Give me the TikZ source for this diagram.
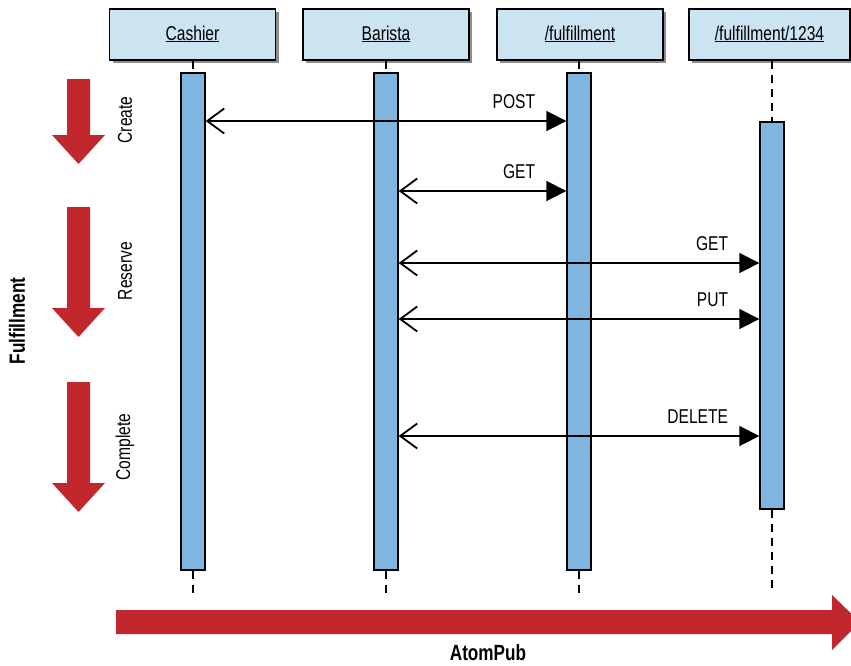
\documentclass[tikz,border=0pt]{standalone}
\usepackage{fontspec}
\setmainfont[FakeStretch=0.78]{Liberation Sans}
\usetikzlibrary{arrows.meta,shadows}

\begin{document}
\begin{tikzpicture}[x=1pt, y=-1pt,
    every node/.style={font=\fontsize{20}{23}\selectfont},
    head/.style={draw, line width=1.6pt, fill=headblue, minimum height=51pt,
      text height=15pt, text depth=4pt, inner sep=0pt,
      drop shadow={shadow xshift=3pt, shadow yshift=-3pt, opacity=0.6, fill=black!75}},
    bar/.style={draw, line width=1.4pt, fill=barblue, minimum width=24pt, inner sep=0pt},
    lifeline/.style={line width=1.6pt, dash pattern=on 8pt off 6pt},
    msg/.style={line width=1.8pt,
      {Straight Barb[length=17pt, width=25pt, line width=1.8pt]}-{Triangle[length=20pt, width=20pt]}},
    verb/.style={anchor=base east, xshift=-27pt, yshift=13pt},
    phase/.style={rotate=90},
    title/.style={font=\fontsize{22}{26}\selectfont\bfseries}]
  \definecolor{headblue}{RGB}{204,228,242}
  \definecolor{barblue}{RGB}{127,181,222}
  \definecolor{phasered}{RGB}{193,39,45}

  \useasboundingbox (0,0) rectangle (851,665);
  \clip (0,0) rectangle (851,665);

  % phases on the left
  \foreach \top/\neck/\tip in {79/135/164, 207/308/337, 382/483/512} {
    \fill[phasered] (67,\top) -- (90,\top) -- (90,\neck) -- (105,\neck)
      -- (78.5,\tip) -- (52,\neck) -- (67,\neck) -- cycle;
  }
  \node[phase] (create) at (125,120) {Create};
  \node[phase] (reserve) at (125,271) {Reserve};
  \node[phase] (complete) at (125,447) {Complete};
  \node[title, rotate=90] (fulfil) at (17,321) {Fulfillment};

  % time axis
  \fill[phasered] (116,610) -- (832,610) -- (832,595) -- (860,622)
    -- (832,650) -- (832,634) -- (116,634) -- cycle;
  \node[title, inner sep=1pt] (atompub) at (488,653) {AtomPub};

  % participants
  \node[head, minimum width=166pt] (cashhead) at (192.5,34.5) {\underline{Cashier}};
  \node[head, minimum width=166pt] (barihead) at (386,34.5) {\underline{Barista}};
  \node[head, minimum width=166pt] (fulhead) at (580,34.5) {\underline{/fulfillment}};
  \node[head, minimum width=161pt] (itemhead) at (769.5,34.5) {\underline{/fulfillment/1234}};

  \node[bar, minimum height=497pt] (cashbar) at (193,321.5) {};
  \node[bar, minimum height=497pt] (baribar) at (386,321.5) {};
  \node[bar, minimum height=497pt] (fulbar) at (579,321.5) {};
  \node[bar, minimum height=387pt] (itembar) at (772,315.5) {};

  \coordinate (floor) at (0,593);
  \foreach \n in {cash,bari,ful,item} {
    \draw[lifeline] (\n head.south -| \n bar) -- (\n bar.north);
    \draw[lifeline] (\n bar.south) -- (\n bar.south |- floor);
  }

  % messages
  \coordinate (ypost) at (0,121);
  \coordinate (yget) at (0,191);
  \coordinate (yread) at (0,263);
  \coordinate (yput) at (0,319);
  \coordinate (ydel) at (0,436);
  \draw[msg] (cashbar.east |- ypost) -- (fulbar.west |- ypost) node[verb] (lpost) {POST};
  \draw[msg] (baribar.east |- yget) -- (fulbar.west |- yget) node[verb] (lget) {GET};
  \draw[msg] (baribar.east |- yread) -- (itembar.west |- yread) node[verb] (lread) {GET};
  \draw[msg] (baribar.east |- yput) -- (itembar.west |- yput) node[verb] (lput) {PUT};
  \draw[msg] (baribar.east |- ydel) -- (itembar.west |- ydel) node[verb] (ldel) {DELETE};
\end{tikzpicture}
\end{document}
